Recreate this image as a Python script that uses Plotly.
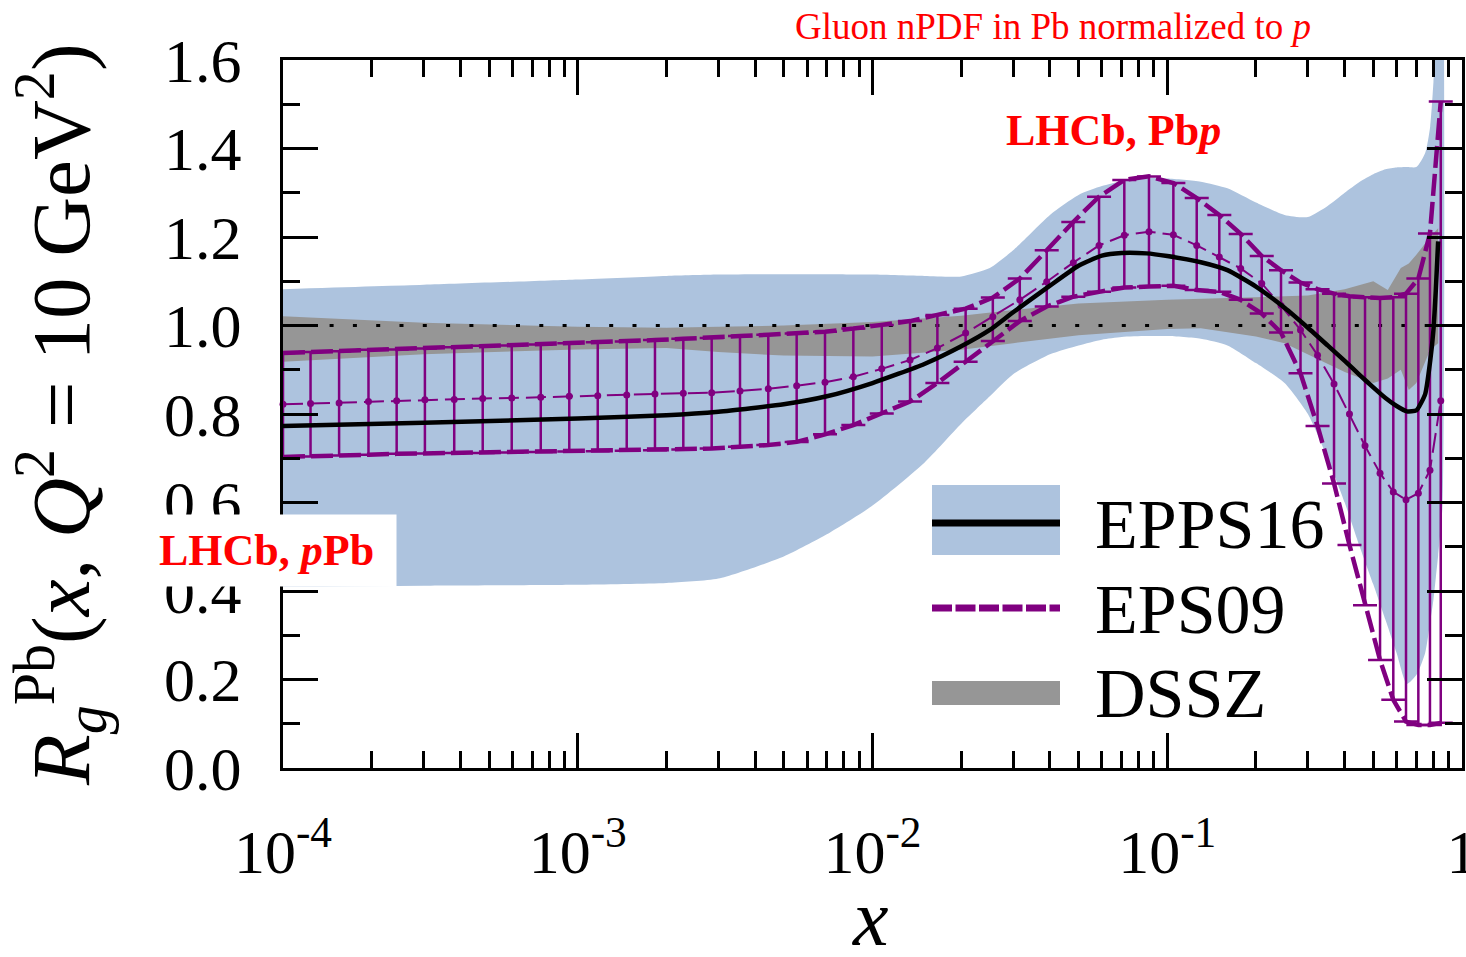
import plotly.graph_objects as go

# ---------------- data ----------------
# EPPS16 gluon modification (central curve)
epps_x = [1e-4, 3e-4, 1e-3, 2e-3, 3e-3, 5e-3, 7e-3, 1e-2, 1.5e-2, 2e-2, 2.5e-2, 3e-2,
          4e-2, 5e-2, 6e-2, 7e-2, 8.5e-2, 0.1, 0.13, 0.16, 0.2, 0.25, 0.3, 0.35, 0.4,
          0.45, 0.5, 0.55, 0.6, 0.65, 0.7, 0.75, 0.78, 0.8, 0.815, 0.83]
epps_central = [0.773, 0.780, 0.790, 0.797, 0.805, 0.822, 0.840, 0.870, 0.913, 0.953, 0.990, 1.030,
                1.090, 1.135, 1.158, 1.164, 1.163, 1.157, 1.143, 1.125, 1.088, 1.040, 0.995, 0.955, 0.920,
                0.888, 0.860, 0.836, 0.818, 0.806, 0.808, 0.845, 0.920, 0.990, 1.080, 1.190]

# EPPS16 uncertainty band
epps_band_x = epps_x + [0.86]
epps_upper = [1.082, 1.092, 1.104, 1.112, 1.115, 1.116, 1.116, 1.115, 1.112, 1.111, 1.130, 1.170,
              1.250, 1.295, 1.315, 1.326, 1.333, 1.332, 1.325, 1.310, 1.278, 1.250, 1.245, 1.270, 1.300,
              1.325, 1.342, 1.353, 1.357, 1.358, 1.358, 1.390, 1.450, 1.550, 1.650, 1.750, 1.900]
epps_lower = [0.410, 0.412, 0.414, 0.418, 0.428, 0.478, 0.528, 0.593, 0.690, 0.778, 0.840, 0.890,
              0.935, 0.955, 0.968, 0.974, 0.976, 0.976, 0.970, 0.955, 0.915, 0.870, 0.800, 0.700, 0.600,
              0.500, 0.415, 0.335, 0.260, 0.190, 0.210, 0.260, 0.330, 0.380, 0.430, 0.480, 0.600]

# DSSZ uncertainty band
dssz_x = [1e-4, 3e-4, 1e-3, 2e-3, 3e-3, 5e-3, 1e-2, 2e-2, 3e-2, 5e-2, 0.1, 0.13, 0.2, 0.25,
          0.3, 0.4, 0.5, 0.56, 0.62, 0.66, 0.7, 0.78, 0.83]
dssz_upper = [1.021, 1.006, 0.997, 0.995, 0.997, 1.000, 1.008, 1.022, 1.035, 1.050, 1.058, 1.060,
              1.063, 1.066, 1.068, 1.082, 1.100, 1.080, 1.130, 1.140, 1.160, 1.200, 1.220]
dssz_lower = [0.918, 0.935, 0.946, 0.949, 0.940, 0.932, 0.930, 0.945, 0.960, 0.978, 0.992, 0.994,
              0.975, 0.960, 0.935, 0.895, 0.870, 0.880, 0.900, 0.854, 0.870, 0.945, 0.960]

# EPS09: central value with upper / lower error limits
eps09_x = [1.00e-4, 1.24e-4, 1.55e-4, 1.95e-4, 2.43e-4, 3.03e-4, 3.81e-4, 4.76e-4, 5.97e-4, 7.49e-4,
           9.36e-4, 1.169e-3, 1.466e-3, 1.828e-3, 2.281e-3, 2.847e-3, 3.552e-3, 4.43e-3, 5.53e-3,
           6.90e-3, 8.61e-3, 1.075e-2, 1.341e-2, 1.66e-2, 2.07e-2, 2.56e-2, 3.16e-2, 3.90e-2, 4.80e-2,
           5.87e-2, 7.15e-2, 8.67e-2, 0.1049, 0.1259, 0.1502, 0.1775, 0.2092, 0.2432, 0.2832, 0.3235,
           0.3680, 0.4152, 0.4688, 0.5272, 0.5847, 0.6457, 0.7110, 0.7786, 0.8471]
eps09_central = [0.822, 0.824, 0.825, 0.828, 0.830, 0.832, 0.833, 0.835, 0.836, 0.838,
                 0.840, 0.841, 0.843, 0.845, 0.847, 0.848, 0.852, 0.857, 0.864,
                 0.872, 0.884, 0.902, 0.922, 0.949, 0.983, 1.020, 1.058, 1.099, 1.142,
                 1.181, 1.204, 1.212, 1.205, 1.181, 1.155, 1.129, 1.095, 1.045, 0.990, 0.933,
                 0.868, 0.800, 0.728, 0.666, 0.624, 0.606, 0.621, 0.673, 0.830]
eps09_upper = [0.938, 0.940, 0.942, 0.945, 0.946, 0.948, 0.951, 0.954, 0.955, 0.957,
               0.960, 0.962, 0.964, 0.967, 0.970, 0.972, 0.976, 0.979, 0.982,
               0.986, 0.993, 1.001, 1.010, 1.024, 1.038, 1.063, 1.106, 1.170, 1.234,
               1.291, 1.329, 1.337, 1.322, 1.288, 1.250, 1.207, 1.157, 1.125, 1.097, 1.082,
               1.072, 1.066, 1.064, 1.062, 1.064, 1.072, 1.106, 1.208, 1.506]
eps09_lower = [0.703, 0.704, 0.706, 0.708, 0.710, 0.711, 0.712, 0.712, 0.713, 0.714,
               0.715, 0.716, 0.717, 0.718, 0.720, 0.722, 0.726, 0.730, 0.737,
               0.754, 0.775, 0.801, 0.828, 0.870, 0.918, 0.965, 1.010, 1.043, 1.065,
               1.076, 1.086, 1.088, 1.090, 1.080, 1.076, 1.058, 1.027, 0.984, 0.892, 0.773,
               0.643, 0.504, 0.368, 0.244, 0.154, 0.105, 0.097, 0.097, 0.102]

# reference line R = 1
unity_x = [1e-4, 1.0]
unity_y = [1.0, 1.0]

# axis ticks
x_tick_vals = [1e-4, 1e-3, 1e-2, 1e-1, 1.0]
x_tick_text = ["10<sup>-4</sup>", "10<sup>-3</sup>", "10<sup>-2</sup>", "10<sup>-1</sup>", "1"]
y_tick_vals = [0.0, 0.2, 0.4, 0.6, 0.8, 1.0, 1.2, 1.4, 1.6]
y_tick_text = ["0.0", "0.2", "0.4", "0.6", "0.8", "1.0", "1.2", "1.4", "1.6"]
x_minor_vals = [k * 10.0 ** d for d in range(-4, 0) for k in range(2, 10)]
y_minor_vals = [0.1, 0.3, 0.5, 0.7, 0.9, 1.1, 1.3, 1.5]

# ---------------- style ----------------
BLUE = "#adc3de"
GRAY = "#969696"
PURPLE = "#800080"
RED = "#ff0000"
SERIF = "Liberation Serif"

W, H = 1466, 957
L, R, T, B = 283, 4, 60, 189
PW, PH = W - L - R, H - T - B


def px(x):
    return (x - L) / PW


def py(y):
    return (H - B - y) / PH


fig = go.Figure()

# EPPS16 band
fig.add_trace(go.Scatter(
    x=epps_band_x + epps_band_x[::-1], y=epps_upper + epps_lower[::-1],
    fill="toself", fillcolor=BLUE, line=dict(width=0, shape="spline", smoothing=0.6),
    mode="lines", hoverinfo="skip", showlegend=False))

# DSSZ band
fig.add_trace(go.Scatter(
    x=dssz_x + dssz_x[::-1], y=dssz_upper + dssz_lower[::-1],
    fill="toself", fillcolor=GRAY, line=dict(width=0), mode="lines",
    hoverinfo="skip", showlegend=False))

# R = 1 dotted line
fig.add_trace(go.Scatter(
    x=unity_x, y=unity_y, mode="lines",
    line=dict(color="black", width=3, dash="4px,19.3px"),
    hoverinfo="skip", showlegend=False))

# EPS09 central with error bars
err_plus = [u - c for u, c in zip(eps09_upper, eps09_central)]
err_minus = [c - l for c, l in zip(eps09_central, eps09_lower)]
fig.add_trace(go.Scatter(
    x=eps09_x, y=eps09_central, mode="lines+markers",
    line=dict(color=PURPLE, width=2, dash="20px,7px"),
    marker=dict(color=PURPLE, size=7),
    error_y=dict(type="data", symmetric=False, array=err_plus, arrayminus=err_minus,
                 color=PURPLE, thickness=2.5, width=12),
    cliponaxis=False, showlegend=False))

# EPPS16 central
fig.add_trace(go.Scatter(
    x=epps_x, y=epps_central, mode="lines",
    line=dict(color="black", width=4.5, shape="spline", smoothing=0.5),
    showlegend=False))

# EPS09 upper / lower limits
for arr in (eps09_upper, eps09_lower):
    fig.add_trace(go.Scatter(
        x=eps09_x, y=arr, mode="lines",
        line=dict(color=PURPLE, width=4.5, dash="22px,6px"),
        showlegend=False))

# ---------------- axes ----------------
axis_common = dict(
    ticks="inside", ticklen=35, tickwidth=3, tickcolor="black",
    showline=True, linewidth=3, linecolor="black", mirror="ticks",
    showgrid=False, zeroline=False, automargin=False,
    tickfont=dict(family=SERIF, size=62, color="black"),
)
fig.update_xaxes(type="log", range=[-4, 0], tickmode="array",
                 tickvals=x_tick_vals, ticktext=x_tick_text,
                 ticklabelstandoff=28, ticklabeloverflow="allow",
                 minor=dict(tickmode="array", tickvals=x_minor_vals, ticks="inside",
                            ticklen=17, tickwidth=3, tickcolor="black", showgrid=False),
                 **axis_common)
fig.update_yaxes(range=[0, 1.6], tickmode="array",
                 tickvals=y_tick_vals, ticktext=y_tick_text,
                 ticklabelstandoff=26,
                 minor=dict(tickmode="array", tickvals=y_minor_vals, ticks="inside",
                            ticklen=17, tickwidth=3, tickcolor="black", showgrid=False),
                 **axis_common)

# ---------------- legend (drawn by hand) ----------------
shapes = [
    dict(type="rect", xref="paper", yref="paper", x0=px(932), x1=px(1060), y0=py(555), y1=py(485),
         fillcolor=BLUE, line=dict(width=0), layer="above"),
    dict(type="line", xref="paper", yref="paper", x0=px(932), x1=px(1060), y0=py(523), y1=py(523),
         line=dict(color="black", width=7), layer="above"),
    dict(type="line", xref="paper", yref="paper", x0=px(932), x1=px(1060), y0=py(608), y1=py(608),
         line=dict(color=PURPLE, width=7, dash="20px,3.5px"), layer="above"),
    dict(type="rect", xref="paper", yref="paper", x0=px(932), x1=px(1060), y0=py(705), y1=py(681),
         fillcolor=GRAY, line=dict(width=0), layer="above"),
]

annotations = []
for label, yc in (("EPPS16", 524), ("EPS09", 609), ("DSSZ", 693)):
    annotations.append(dict(text=label, xref="paper", yref="paper", x=px(1093), y=py(yc),
                            xanchor="left", yanchor="middle", showarrow=False,
                            font=dict(family=SERIF, size=70, color="black")))

# titles and labels
annotations += [
    dict(text="Gluon nPDF in Pb normalized to <i>p</i>", xref="paper", yref="paper",
         x=px(1053), y=py(27), xanchor="center", yanchor="middle", showarrow=False,
         font=dict(family=SERIF, size=37, color=RED)),
    dict(text="<b>LHCb, Pb<i>p</i></b>", xref="paper", yref="paper",
         x=px(1113), y=py(130), xanchor="center", yanchor="middle", showarrow=False,
         font=dict(family=SERIF, size=44, color=RED)),
    dict(text=" ", xref="paper", yref="paper", x=px(273), y=py(550),
         xanchor="center", yanchor="middle", showarrow=False, width=246, height=71,
         bgcolor="white", borderpad=0, font=dict(size=10)),
    dict(text="<b>LHCb, <i>p</i>Pb</b>", xref="paper", yref="paper",
         x=px(266), y=py(550), xanchor="center", yanchor="middle", showarrow=False,
         font=dict(family=SERIF, size=44, color=RED)),
    dict(text="<i>R</i><sub><i>g</i></sub><sup>Pb</sup>(<i>x</i>, <i>Q</i><sup>2</sup> = 10 GeV<sup>2</sup>)",
         xref="paper", yref="paper", x=px(60), y=py(415), textangle=-90,
         xanchor="center", yanchor="middle", showarrow=False, borderpad=0,
         font=dict(family=SERIF, size=83, color="black")),
    dict(text="<i>x</i>", xref="paper", yref="paper", x=px(870), y=py(963),
         xanchor="center", yanchor="bottom", showarrow=False, borderpad=0,
         font=dict(family=SERIF, size=80, color="black")),
]

fig.update_layout(
    width=W, height=H, autosize=False,
    margin=dict(l=L, r=R, t=T, b=B),
    paper_bgcolor="white", plot_bgcolor="white",
    showlegend=False, shapes=shapes, annotations=annotations,
)

fig.write_html("out.html")
